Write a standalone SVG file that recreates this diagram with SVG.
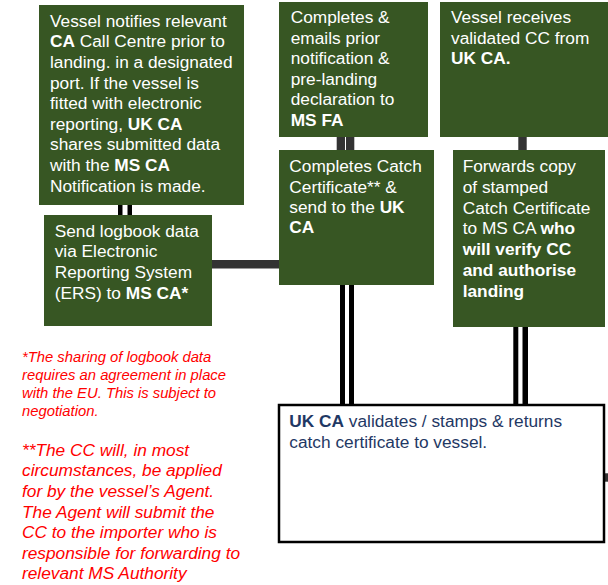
<svg xmlns="http://www.w3.org/2000/svg" width="608" height="585" viewBox="0 0 608 585">
<style>
text{font-family:"Liberation Sans",Arial,sans-serif;}
.box{fill:#375623;}
.t{fill:#ffffff;font-size:17.3px;}
.b{font-weight:bold;}
.w{fill:#ffffff;stroke:#000000;stroke-width:2.5;}
.n{fill:#1f3864;font-size:17.3px;}
.r{fill:#ff0000;font-style:italic;}
.blk{fill:#000000;}
.dk{fill:#333333;}
</style>
<rect width="608" height="585" fill="#ffffff"/>
<g id="connectors">
<rect class="blk" x="118" y="204" width="4.5" height="12"/>
<rect class="blk" x="127.5" y="204" width="4.5" height="12"/>
<rect class="dk" x="212" y="260" width="68" height="8.5"/>
<rect class="dk" x="336.7" y="136" width="8.3" height="15"/>
<rect class="dk" x="346" y="136" width="8.3" height="15"/>
<rect class="dk" x="518.3" y="136" width="8.4" height="15"/>
<rect class="blk" x="340" y="284" width="5" height="122"/>
<rect class="blk" x="349" y="284" width="5" height="122"/>
<rect class="blk" x="513.3" y="326" width="5" height="80"/>
<rect class="blk" x="522.5" y="326" width="5.5" height="80"/>
<rect class="dk" x="605" y="473.3" width="3" height="8.4"/>
</g>
<g id="n1">
<rect class="box" x="39" y="5" width="205" height="200"/>
<text class="t" x="50" y="26.7">Vessel notifies relevant</text>
<text class="t" x="50" y="47.3"><tspan class="b">CA</tspan> Call Centre prior to</text>
<text class="t" x="50" y="67.9">landing. in a designated</text>
<text class="t" x="50" y="88.5">port. If the vessel is</text>
<text class="t" x="50" y="109.1">fitted with electronic</text>
<text class="t" x="50" y="129.7">reporting, <tspan class="b">UK CA</tspan></text>
<text class="t" x="50" y="150.3">shares submitted data</text>
<text class="t" x="50" y="170.9">with the <tspan class="b">MS CA</tspan></text>
<text class="t" x="50" y="191.5">Notification is made.</text>
</g>
<g id="n2">
<rect class="box" x="44" y="215" width="168" height="111"/>
<text class="t" x="54.7" y="236.7">Send logbook data</text>
<text class="t" x="54.7" y="257.4">via Electronic</text>
<text class="t" x="54.7" y="278.1">Reporting System</text>
<text class="t" x="54.7" y="298.8">(ERS) to <tspan class="b">MS CA*</tspan></text>
</g>
<g id="n3">
<rect class="box" x="279" y="2" width="149" height="135"/>
<text class="t" x="290.7" y="23.3">Completes &amp;</text>
<text class="t" x="290.7" y="43.8">emails prior</text>
<text class="t" x="290.7" y="64.3">notification &amp;</text>
<text class="t" x="290.7" y="84.8">pre-landing</text>
<text class="t" x="290.7" y="105.3">declaration to</text>
<text class="t b" x="290.7" y="125.8">MS FA</text>
</g>
<g id="n4">
<rect class="box" x="440" y="2" width="168" height="135"/>
<text class="t" x="451" y="23.3">Vessel receives</text>
<text class="t" x="451" y="43.8">validated CC from</text>
<text class="t b" x="451" y="64.3">UK CA.</text>
</g>
<g id="n5">
<rect class="box" x="279" y="150" width="155" height="135"/>
<text class="t" x="289.3" y="172.3">Completes Catch</text>
<text class="t" x="289.3" y="192.6">Certificate** &amp;</text>
<text class="t" x="289.3" y="212.9">send to the <tspan class="b">UK</tspan></text>
<text class="t b" x="289.3" y="233.2">CA</text>
</g>
<g id="n6">
<rect class="box" x="453" y="150" width="152" height="177"/>
<text class="t" x="462.7" y="172.3">Forwards copy</text>
<text class="t" x="462.7" y="193">of stamped</text>
<text class="t" x="462.7" y="213.7">Catch Certificate</text>
<text class="t" x="462.7" y="234.4">to MS CA <tspan class="b">who</tspan></text>
<text class="t b" x="462.7" y="255.1">will verify CC</text>
<text class="t b" x="462.7" y="275.8">and authorise</text>
<text class="t b" x="462.7" y="296.5">landing</text>
</g>
<g id="n7">
<rect class="w" x="279" y="405" width="325" height="137"/>
<text class="n" x="289.3" y="427.3"><tspan class="b">UK CA</tspan> validates / stamps &amp; returns</text>
<text class="n" x="289.3" y="448.3">catch certificate to vessel.</text>
</g>
<g id="notes">
<text class="r" font-size="14.8" x="22" y="362.3">*The sharing of logbook data</text>
<text class="r" font-size="14.8" x="22" y="380.2">requires an agreement in place</text>
<text class="r" font-size="14.8" x="22" y="398.1">with the EU. This is subject to</text>
<text class="r" font-size="14.8" x="22" y="416">negotiation.</text>
<text class="r" font-size="17.3" x="22" y="455.7">**The CC will, in most</text>
<text class="r" font-size="17.3" x="22" y="476.3">circumstances, be applied</text>
<text class="r" font-size="17.3" x="22" y="496.9">for by the vessel’s Agent.</text>
<text class="r" font-size="17.3" x="22" y="517.5">The Agent will submit the</text>
<text class="r" font-size="17.3" x="22" y="538.1">CC to the importer who is</text>
<text class="r" font-size="17.3" x="22" y="558.7">responsible for forwarding to</text>
<text class="r" font-size="17.3" x="22" y="579.3">relevant MS Authority</text>
</g>
</svg>
